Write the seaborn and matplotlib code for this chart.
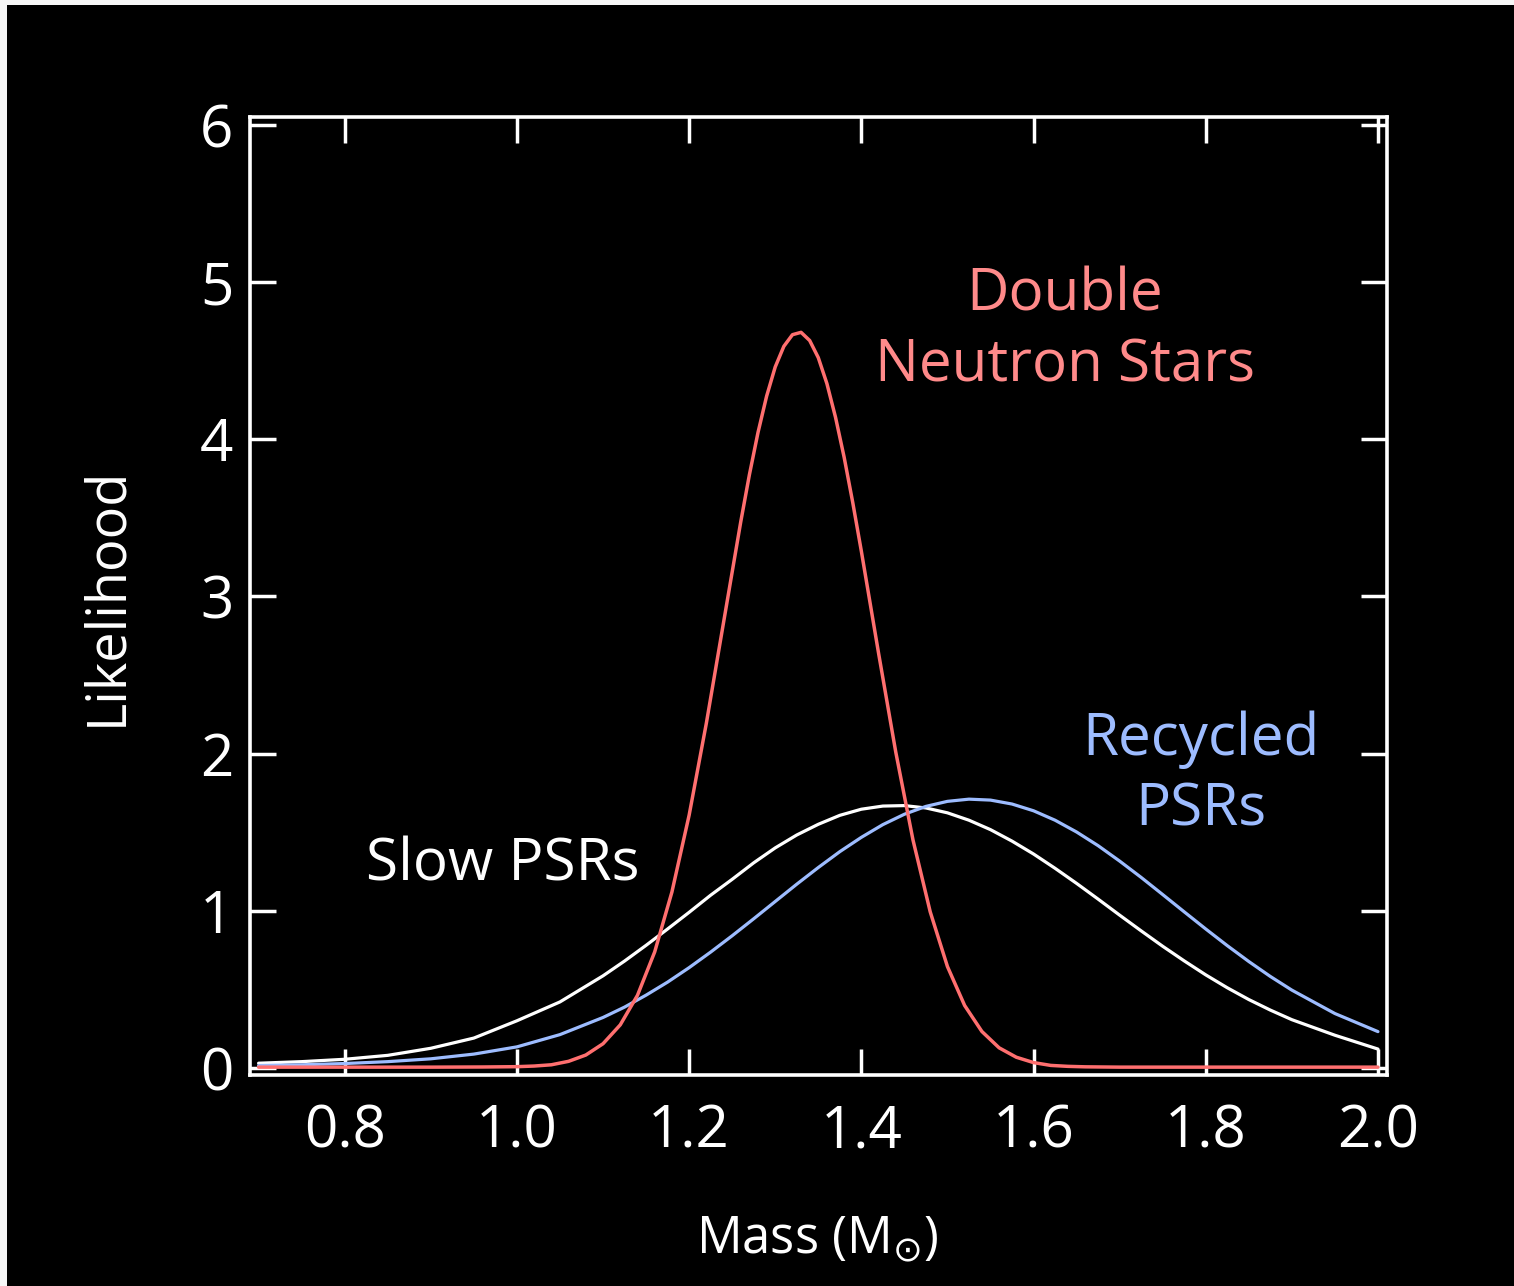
import numpy as np
import pandas as pd
import matplotlib
matplotlib.use("Agg")
import matplotlib.pyplot as plt
import seaborn as sns
from matplotlib.patches import Rectangle

# ---- data ----
mass_broad = [0.70, 0.75, 0.80, 0.85, 0.90, 0.95, 1.00, 1.05, 1.10, 1.125, 1.15, 1.175, 1.20, 1.225,
              1.25, 1.275, 1.30, 1.325, 1.35, 1.375, 1.40, 1.425, 1.45, 1.475, 1.50, 1.525, 1.55,
              1.575, 1.60, 1.625, 1.65, 1.675, 1.70, 1.725, 1.75, 1.775, 1.80, 1.825, 1.85, 1.875,
              1.90, 1.95, 2.00]
slow_psrs = [0.03, 0.04, 0.055, 0.08, 0.125, 0.19, 0.30, 0.42, 0.586, 0.680, 0.78, 0.884, 0.99, 1.099,
             1.20, 1.305, 1.40, 1.482, 1.55, 1.607, 1.646, 1.666, 1.669, 1.654, 1.623, 1.576, 1.516,
             1.443, 1.361, 1.270, 1.174, 1.074, 0.972, 0.872, 0.774, 0.681, 0.592, 0.510, 0.435, 0.368,
             0.307, 0.208, 0.12]
recycled_psrs = [0.015, 0.02, 0.028, 0.04, 0.058, 0.088, 0.134, 0.212, 0.321, 0.387, 0.463, 0.546, 0.638,
                 0.737, 0.841, 0.949, 1.059, 1.169, 1.275, 1.376, 1.467, 1.548, 1.614, 1.664, 1.696,
                 1.71, 1.704, 1.679, 1.636, 1.576, 1.501, 1.414, 1.316, 1.212, 1.103, 0.993, 0.884,
                 0.778, 0.677, 0.582, 0.495, 0.346, 0.231]

mass_dns = [0.70, 0.80, 0.90, 0.96, 1.00, 1.02, 1.04, 1.06, 1.08, 1.10, 1.12, 1.14, 1.16, 1.18, 1.20,
            1.22, 1.24, 1.26, 1.27, 1.28, 1.29, 1.30, 1.31, 1.32, 1.33, 1.34, 1.35, 1.36, 1.37, 1.38,
            1.39, 1.40, 1.42, 1.44, 1.46, 1.48, 1.50, 1.52, 1.54, 1.56, 1.58, 1.60, 1.62, 1.64, 1.66,
            1.70, 1.80, 1.90, 2.00]
double_ns = [0.005, 0.005, 0.005, 0.006, 0.008, 0.012, 0.020, 0.042, 0.082, 0.154, 0.274, 0.462, 0.738,
             1.119, 1.608, 2.193, 2.835, 3.476, 3.774, 4.043, 4.274, 4.460, 4.591, 4.665, 4.68, 4.628,
             4.519, 4.354, 4.140, 3.886, 3.598, 3.288, 2.639, 2.009, 1.450, 0.993, 0.645, 0.397, 0.232,
             0.128, 0.068, 0.034, 0.016, 0.010, 0.007, 0.005, 0.005, 0.005, 0.005]

x_ticks = [0.8, 1.0, 1.2, 1.4, 1.6, 1.8, 2.0]
x_tick_labels = ["0.8", "1.0", "1.2", "1.4", "1.6", "1.8", "2.0"]
y_ticks = [0, 1, 2, 3, 4, 5, 6]

# ---- style ----
sns.set_theme(style="dark")
plt.rcParams["font.family"] = ["Open Sans", "DejaVu Sans"]
plt.rcParams["mathtext.fontset"] = "dejavusans"

W, H = 1514, 1286
fig = plt.figure(figsize=(W / 100, H / 100), dpi=100, facecolor="#f7f7f7")
bg = Rectangle((7 / W, 0), 1 - 7 / W, 1 - 5 / H, transform=fig.transFigure,
               facecolor="black", edgecolor="none", zorder=-10)
fig.patches.append(bg)

ax = fig.add_axes([250 / W, 1 - 1075 / H, (1387 - 250) / W, (1075 - 117) / H])
ax.set_facecolor("black")

df_slow = pd.DataFrame({"mass": mass_broad, "like": slow_psrs})
df_rec = pd.DataFrame({"mass": mass_broad, "like": recycled_psrs})
df_dns = pd.DataFrame({"mass": mass_dns, "like": double_ns})

red = "#ff6f6f"
blue = "#9dbcff"
sns.lineplot(data=df_slow, x="mass", y="like", ax=ax, color="white", lw=2.3, zorder=3)
sns.lineplot(data=df_rec, x="mass", y="like", ax=ax, color=blue, lw=2.3, zorder=3)
sns.lineplot(data=df_dns, x="mass", y="like", ax=ax, color=red, lw=2.5, zorder=4)

ax.set_xlim(0.69, 2.0105)
ax.set_ylim(-0.045, 6.05)
ax.set_xticks(x_ticks)
ax.set_xticklabels(x_tick_labels)
ax.set_yticks(y_ticks)
ax.grid(False)

for s in ax.spines.values():
    s.set_visible(True)
    s.set_color("white")
    s.set_linewidth(2.6)

ax.tick_params(axis="both", which="major", direction="in", length=19, width=2.5,
               color="white", labelcolor="white", top=True, right=True,
               bottom=True, left=True, labelsize=42)
ax.tick_params(axis="x", pad=20)
ax.tick_params(axis="y", pad=12)

ax.set_xlabel("")
ax.set_ylabel("")
fig.text(817 / W, 1 - 1240 / H, r"Mass (M$_{\odot}$)", color="white", fontsize=36.5,
         ha="center", va="center")
fig.text(107 / W, 1 - 596 / H, "Likelihood", color="white", fontsize=39,
         ha="center", va="center", rotation=90)

fig.text(1065 / W, 1 - 331 / H, "Double\nNeutron Stars", color="#ff8a8a",
         fontsize=42, ha="center", va="center", linespacing=1.28)
fig.text(1201 / W, 1 - 775 / H, "Recycled\nPSRs", color=blue,
         fontsize=42, ha="center", va="center", linespacing=1.28)
fig.text(503 / W, 1 - 865 / H, "Slow PSRs", color="white",
         fontsize=42, ha="center", va="center")

fig.savefig("out.png", dpi=100, facecolor=fig.get_facecolor())
